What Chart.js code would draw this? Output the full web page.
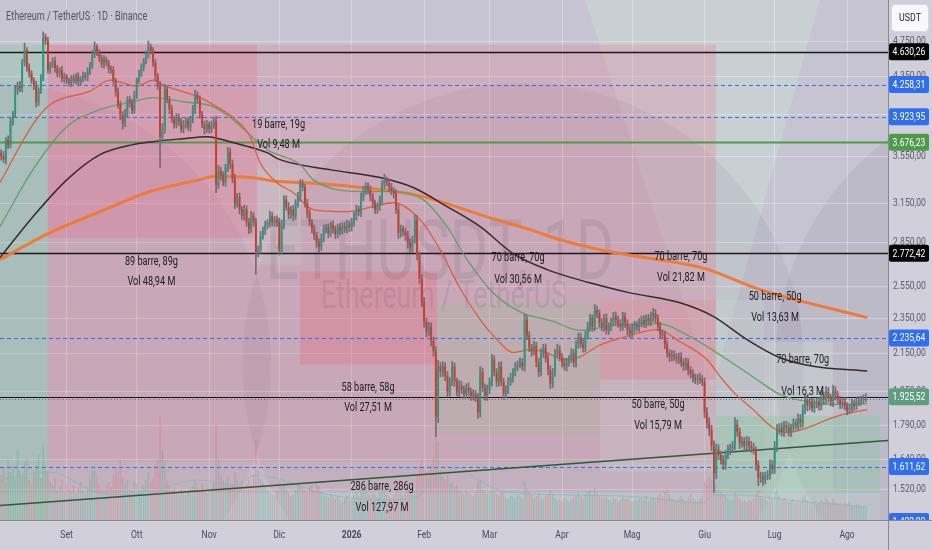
<!DOCTYPE html>
<html><head><meta charset="utf-8">
<script src="https://cdn.jsdelivr.net/npm/chart.js@4.4.1/dist/chart.umd.min.js"></script>
<style>html,body{margin:0;padding:0;background:#d1cfda;}#wrap{width:932px;height:550px;position:relative;}</style>
</head><body><div id="wrap"><canvas id="c"></canvas></div>
<script>
// ---------- DATA ----------
const firstOpen = 3580;
const closes = [
3550,3520,3700,3650,3880,3950,4200,4250,4220,4500,
4650,4450,4380,4300,4250,4070,4200,4330,4810,4760,
4420,4480,4520,4440,4380,4420,4320,4350,4300,4280,
4330,4300,4350,4290,4320,4360,4340,4400,4470,4600,
4690,4620,4560,4480,4540,4500,4430,4420,4300,4180,
4050,3940,3860,3950,4100,4060,3990,4150,4300,4380,
4450,4520,4600,4690,4640,4500,4350,4250,3730,3800,
4210,4100,4000,3900,3850,3920,3880,3800,3850,3880,
3820,3900,4000,4150,4100,3950,3850,3800,3850,3800,
3850,3880,3300,3420,3380,3320,3450,3590,3480,3350,
3150,3200,3100,3050,3100,3000,2950,3050,3000,2780,
2800,2900,2940,2980,3000,3050,3000,3020,3000,2800,
2980,3180,3120,3060,3100,3050,3150,3200,3310,3280,
3150,3070,3000,2950,2900,2850,2820,2880,2950,2960,
2920,2980,2950,2910,2960,2940,2970,2950,2990,2960,
3000,3050,3100,3080,3200,3250,3290,3260,3200,3150,
3100,3120,3180,3300,3340,3320,3280,3250,3230,3100,
2920,2950,2930,2900,2850,2810,2870,3020,2760,2600,
2450,2330,2270,2300,2220,2160,1830,2080,2050,2080,
2030,1950,2000,2080,2000,1950,1980,1960,1940,1970,
1950,1930,1940,1920,1850,2050,1970,1930,1960,2000,
2115,2050,2000,2080,2000,1940,1960,2000,2020,2050,
2080,2090,2100,2080,2340,2250,2180,2160,2190,2100,
2050,2150,2180,2120,2060,1990,2050,2150,2170,2130,
2100,2080,2100,2120,2150,2100,2200,2240,2200,2180,
2250,2300,2350,2300,2400,2380,2320,2300,2350,2280,
2300,2330,2360,2340,2320,2300,2360,2320,2280,2260,
2290,2310,2300,2320,2340,2320,2350,2330,2360,2380,
2350,2300,2260,2250,2200,2150,2130,2140,2130,2120,
2130,2100,2080,2100,2060,2040,2020,2010,2020,2010,
2000,1850,1800,1770,1700,1585,1683,1660,1640,1620,
1660,1680,1690,1700,1793,1760,1710,1720,1700,1720,
1700,1690,1680,1620,1567,1570,1560,1575,1580,1620,
1600,1695,1770,1780,1760,1790,1780,1760,1780,1800,
1790,1820,1800,1863,1911,1880,1900,1870,1890,1900,
1880,1930,1910,1950,1920,1900,1955,1930,1910,1890,
1900,1880,1860,1870,1890,1880,1900,1905,1910,1915,
1925];
// upper / lower wick length, per mille of price
const upWick = [
8,12,6,10,9,7,11,8,10,9, 18,6,9,7,8,10,6,9,12,7, 9,6,8,10,7,6,9,8,5,7, 6,8,7,9,6,8,7,10,8,9,
12,6,8,7,9,6,7,8,9,6, 10,8,9,12,7,8,10,9,7,8, 9,7,8,14,6,8,9,7,10,15, 12,9,8,10,7,9,8,7,10,8,
9,7,10,12,8,9,7,8,10,6, 8,10,12,14,9,10,8,11,9,10, 12,9,10,8,11,9,10,12,8,10, 9,11,8,10,7,12,9,8,10,11,
12,10,9,11,8,10,9,12,10,9, 8,10,9,7,10,8,9,11,10,8, 9,7,10,8,9,11,8,10,9,7, 10,9,11,8,10,12,9,8,10,9,
8,10,9,11,15,8,9,10,8,9, 12,10,8,9,11,10,9,12,10,8, 10,12,9,11,10,9,12,15,10,12, 9,11,10,12,9,10,14,11,9,10,
12,9,10,8,11,14,10,9,12,10, 14,10,9,11,12,9,10,11,12,9, 10,9,12,10,15,11,10,9,12,10, 11,12,9,10,12,11,9,10,14,10,
9,11,10,8,12,10,9,11,10,12, 10,12,11,9,14,10,9,12,10,11, 10,9,11,12,10,9,11,10,9,12, 11,10,9,12,10,11,9,10,12,13,
10,9,12,10,11,9,10,12,11,9, 10,11,9,12,10,9,11,10,9,12, 11,10,12,14,11,12,15,12,10,11, 12,13,10,11,18,12,10,11,9,12,
10,11,12,9,10,12,11,9,10,12, 11,14,13,10,12,11,10,12,9,11, 10,12,11,13,12,10,11,9,12,10, 11,12,10,13,11,9,14,10,11,9,
10,11,9,10,12,9,10,11,9,10,8];
const dnWick = [
10,8,12,9,7,10,8,11,9,10, 8,10,9,7,11,12,8,9,7,10, 8,9,7,10,8,9,7,10,8,9, 10,7,9,8,10,7,8,9,7,8,
9,8,10,7,9,8,10,9,8,11, 10,12,15,9,8,10,9,8,10,7, 8,9,7,10,8,9,12,10,75,12, 10,9,12,8,10,9,11,8,9,10,
8,10,9,11,8,10,9,12,8,10, 9,11,20,10,12,9,10,11,12,10, 14,10,12,9,11,10,12,9,10,55, 12,10,9,11,10,12,9,10,11,14,
12,10,9,11,10,12,9,10,11,9, 10,12,9,11,10,12,14,10,9,11, 12,9,10,11,9,12,10,9,11,10, 9,10,11,9,12,10,9,11,10,12,
11,10,9,12,10,9,11,10,12,10, 14,11,10,12,14,12,10,9,12,13, 12,14,12,10,13,12,50,15,12,11, 12,14,11,10,12,11,13,10,12,11,
10,12,11,10,15,12,10,11,12,10, 11,10,12,11,10,14,11,10,9,11, 10,11,9,10,12,11,10,12,9,11, 12,10,11,9,12,13,10,11,9,10,
11,10,12,9,10,11,12,10,9,11, 10,9,11,12,10,11,9,10,12,10, 11,10,9,12,10,11,9,10,12,10, 9,11,10,12,9,10,11,9,10,12,
11,10,12,9,11,10,12,10,9,11, 12,10,11,9,12,10,11,10,12,9, 10,14,12,15,13,48,14,12,11,13, 12,10,11,12,10,11,13,10,12,11,
12,11,10,14,20,12,15,11,10,12, 11,10,12,11,10,12,11,10,12,9, 10,11,12,10,11,12,10,9,11,10, 11,10,12,9,11,10,12,11,10,12,
11,10,12,9,10,11,9,10,11,9,8];
// volume, in pane units
const volumes = [
45,52,38,60,48,55,42,70,50,44, 58,62,40,36,48,55,66,42,75,50, 47,38,35,42,30,33,40,28,36,31, 29,35,27,33,38,30,26,34,41,50,
55,44,36,32,30,35,38,33,45,52, 48,60,42,35,40,31,29,38,36,30, 33,35,40,48,38,42,55,60,103,70, 58,40,35,30,32,28,26,30,27,25,
28,31,34,40,33,30,35,29,26,30, 32,38,95,60,45,40,38,44,35,36, 48,40,35,38,32,36,40,34,45,80, 50,42,38,33,30,28,26,25,29,40,
32,36,30,27,24,26,30,38,35,31, 30,28,33,35,30,36,34,28,25,24, 22,26,23,21,25,20,18,22,24,19, 21,25,28,24,30,28,33,26,24,27,
25,23,28,32,30,26,24,22,25,30, 36,28,25,30,33,28,35,30,45,55, 60,52,48,50,55,62,89,78,50,44, 40,45,36,38,33,35,30,28,26,30,
27,25,24,28,38,40,30,27,26,29, 33,30,26,24,28,27,22,21,24,23, 22,25,24,21,38,32,28,25,22,24, 26,22,21,24,26,30,25,22,20,21,
19,22,20,18,21,23,25,28,24,22, 26,28,30,25,32,27,24,22,21,23, 20,19,22,21,18,20,23,21,22,19, 18,20,19,21,22,20,24,19,21,23,
22,25,27,24,28,30,26,22,21,20, 22,24,21,19,23,26,22,20,19,21, 24,38,35,42,40,47,36,30,28,26, 25,22,20,21,28,24,22,19,20,18,
20,19,22,26,30,24,22,20,19,23, 21,28,30,24,20,22,19,18,20,21, 17,19,18,23,25,20,18,17,19,16, 17,20,18,22,19,17,21,18,16,17,
15,17,16,18,15,14,16,15,13,14,12];

// moving averages: [bar index, price]
const ma200 = [[-0.5,2728],[20.9,2922],[42.3,3082],[63.7,3244],[85.1,3344],[90.7,3370],[106.5,3361],[119.3,3327],[127.9,3319],[140.7,3302],[162.1,3260],[180.5,3202],[205,3059],[226.3,2944],[239.2,2870],[256.3,2798],[267.9,2762],[300.4,2670],[324.8,2528],[370.6,2354]];
const ma100 = [[-0.5,2742],[13.6,3043],[28.2,3344],[42.3,3563],[56.4,3655],[65,3683],[77.8,3711],[88.1,3730],[99.2,3674],[113.8,3581],[119.3,3518],[140.7,3430],[162.1,3361],[176.3,3277],[190.8,3122],[205,2967],[219.1,2770],[233.6,2660],[256.3,2554],[269.1,2507],[290.5,2445],[304.7,2362],[319.2,2226],[333.3,2126],[347.5,2080],[370.6,2055]];
const ma50 = [[-0.5,2967],[13.6,3430],[28.2,3827],[42.3,3995],[56.4,4076],[65,4119],[77.8,4076],[90.7,4026],[99.2,3895],[113.8,3609],[127.9,3474],[133.5,3344],[154.9,3244],[167.7,3244],[180.5,3178],[190.8,2967],[199.4,2728],[210.5,2508],[222.1,2389],[236.2,2331],[247.7,2279],[261.9,2307],[280.7,2319],[294.8,2243],[308.9,2131],[323.5,2010],[333.3,1936],[347.5,1897],[359,1888],[370.6,1892]];
const ma20 = [[-0.5,3318],[13.6,3848],[20.9,4046],[38,4187],[46.6,4307],[58.1,4242],[65,4307],[69.3,4253],[79.5,4170],[85.1,4119],[90.7,4047],[99.2,3915],[106.5,3733],[110.8,3491],[118,3318],[124.9,3236],[133.5,3098],[148,3082],[159.1,3121],[167.7,3153],[179.3,3020],[187.8,2798],[196.4,2535],[205,2342],[212.2,2226],[219.1,2154],[226.3,2170],[233.6,2154],[240.5,2115],[247.7,2131],[256.3,2196],[269.1,2250],[280.7,2283],[290.5,2214],[302.1,2115],[307.7,2026],[313.2,1950],[321.8,1863],[330.3,1779],[336.3,1757],[344.9,1779],[354.7,1821],[362,1845],[370.6,1863]];
const volMA = [[-0.5,40],[20.9,48],[42.3,27],[63.7,25],[71,33],[85.1,40],[99.2,35],[109.5,45],[120.6,40],[135.2,28],[149.3,22],[163.4,20],[178,23],[184.8,40],[196.4,52],[201.9,43],[216.5,28],[244.7,25],[273.4,23],[300.4,17],[304.7,25],[316.2,25],[330.3,22],[344.9,18],[366.3,14],[370.6,13]];
const trendLine = [[-0.5,1460],[379.5,1722]];

// axes
const monthTicks = [28,58,89,119,150,181,209,240,270,301,331,362];
const monthLabels = ['Set','Ott','Nov','Dic','2026','Feb','Mar','Apr','Mag','Giu','Lug','Ago'];
const priceTicks = [4750,4350,3950,3550,3150,2850,2550,2350,2150,1950,1790,1640,1520];

// horizontal levels
const levels = [4630.26,4258.31,3923.95,3676.23,2772.42,2235.64,1925.52,1611.62];
const levelKinds = ['black','blue','blue','green','black','blue','price','blue'];
const bottomTag = 1402;

// drawn zones: [from bar, to bar, low price, high price]
const zones = [
[-0.5,20,1407,4713],[20,305.9,1632,4713],[20,305.9,1508,1632],[20,109.5,2885,4713],
[109.5,128.3,2694,3447],[127.9,186.5,2089,2646],[186.5,256.3,1748,2445],[256.3,326.5,1591,2464],
[256.3,305.9,2010,2464],[326.5,356,1508,2215],[305.9,376.1,1508,1834],[-0.5,376.1,1407,1508]];
const zoneFills = ['rgba(110,200,150,0.25)','rgba(230,110,140,0.25)','rgba(230,110,140,0.13)','rgba(235,90,120,0.2)',
'rgba(190,205,200,0.3)','rgba(235,90,110,0.25)','rgba(165,190,160,0.3)','rgba(200,225,210,0.22)',
'rgba(235,90,120,0.22)','rgba(215,235,225,0.25)','rgba(120,200,150,0.3)','rgba(190,220,210,0.22)'];

// range measurement labels
const rangeText1 = ['89 barre, 89g','19 barre, 19g','58 barre, 58g','70 barre, 70g','70 barre, 70g','50 barre, 50g','50 barre, 50g','70 barre, 70g','286 barre, 286g'];
const rangeText2 = ['Vol 48,94 M','Vol 9,48 M','Vol 27,51 M','Vol 30,56 M','Vol 21,82 M','Vol 13,63 M','Vol 15,79 M','Vol 16,3 M','Vol 127,97 M'];
const rangeX = [64.3,118.7,157,221.2,290.9,331.2,281.1,343,163];
const rangeY1 = [2714,3846,1970,2742,2749,2483,1887,2115,1531];
const rangeY2 = [2580,3655,1873,2593,2606,2354,1789,1949,1452];

// ---------- BUILD ----------
const opens = closes.map((c,i)=> i===0 ? firstOpen : closes[i-1]);
const highs = closes.map((c,i)=> Math.max(c,opens[i])*(1+upWick[i]/1000));
const lows = closes.map((c,i)=> Math.min(c,opens[i])*(1-dnWick[i]/1000));
const isUp = closes.map((c,i)=> c>=opens[i]);
const bodyData = closes.map((c,i)=>({x:i,y:[opens[i],c]}));
const wickData = closes.map((c,i)=>({x:i,y:[lows[i],highs[i]]}));
const volData = volumes.map((v,i)=>({x:i,y:v}));
const pts = a => a.map(p=>({x:p[0],y:p[1]}));

function fmt(v){const s=v.toFixed(2).split('.');return s[0].replace(/\B(?=(\d{3})+(?!\d))/g,'.')+','+s[1];}
function txt(ctx,s,x,y,size,color,align,sx,weight){
  ctx.save();ctx.translate(x,y);ctx.scale(sx,1);
  ctx.font=(weight||'normal')+' '+size+'px Roboto, "Liberation Sans", sans-serif';
  ctx.fillStyle=color;ctx.textAlign=align;ctx.textBaseline='middle';
  ctx.fillText(s,0,0);ctx.restore();
}
function rrect(ctx,x,y,w,h,r){ctx.beginPath();ctx.moveTo(x+r,y);ctx.arcTo(x+w,y,x+w,y+h,r);ctx.arcTo(x+w,y+h,x,y+h,r);ctx.arcTo(x,y+h,x,y,r);ctx.arcTo(x,y,x+w,y,r);ctx.closePath();}

const levelLine = {black:['#1d191b',1.6,[]],blue:['#2f6ef0',1,[4,3]],green:['#4f9a4a',2,[]],price:['#15141a',1.2,[]]};
const levelBox = {black:'#050505',blue:'#2f6ef0',green:'#4f9a4a',price:'#5e9e7e'};

const deco = {
  id:'deco',
  beforeDraw(chart){
    const {ctx,chartArea:a,width,height}=chart;
    ctx.save();
    ctx.fillStyle='#d1cfda';ctx.fillRect(0,0,width,height);
    ctx.beginPath();ctx.rect(a.left,a.top,a.right-a.left,a.bottom-a.top);ctx.clip();
    ctx.fillStyle='#c6c4d0';ctx.fillRect(a.left,a.top,a.right-a.left,a.bottom-a.top);
    const W=a.right-a.left,H=a.bottom-a.top;
    ctx.fillStyle='rgba(205,232,222,0.35)';
    ctx.beginPath();ctx.moveTo(a.left+W*0.659,a.top);ctx.lineTo(a.left+W*0.923,a.top);ctx.lineTo(a.left+W*0.802,a.top+H*0.75);ctx.closePath();ctx.fill();
    ctx.fillStyle='rgba(70,60,80,0.07)';
    for(const cx of [-0.011,0.589,1.189]){ctx.beginPath();ctx.arc(a.left+W*cx,a.top+H*0.7,H*0.54,0,Math.PI*2);ctx.fill();}
    ctx.restore();
  },
  beforeDatasetsDraw(chart){
    const {ctx,chartArea:a,scales:{x,y}}=chart;
    ctx.save();ctx.beginPath();ctx.rect(a.left,a.top,a.right-a.left,a.bottom-a.top);ctx.clip();
    zones.forEach((z,k)=>{
      const x0=x.getPixelForValue(z[0]),x1=x.getPixelForValue(z[1]);
      const y0=y.getPixelForValue(z[3]),y1=y.getPixelForValue(z[2]);
      ctx.fillStyle=zoneFills[k];ctx.fillRect(x0,y0,x1-x0,y1-y0);
    });
    const cx=(a.left+a.right)/2;
    txt(ctx,'ETHUSDT, 1D',cx-4,y.getPixelForValue(2740),84,'rgba(60,45,70,0.10)','center',0.7);
    txt(ctx,'Ethereum / TetherUS',cx,y.getPixelForValue(2470),38,'rgba(60,45,70,0.10)','center',0.7);
    levels.forEach((v,k)=>{
      const st=levelLine[levelKinds[k]];const py=Math.round(y.getPixelForValue(v))+0.5;
      ctx.strokeStyle=st[0];ctx.lineWidth=st[1];ctx.setLineDash(st[2]);
      ctx.beginPath();ctx.moveTo(a.left,py);ctx.lineTo(a.right,py);ctx.stroke();
    });
    const lp=Math.round(y.getPixelForValue(closes[closes.length-1]))+2.5;
    ctx.strokeStyle='rgba(90,90,100,0.8)';ctx.lineWidth=1;ctx.setLineDash([1,2]);
    ctx.beginPath();ctx.moveTo(a.left,lp);ctx.lineTo(a.right,lp);ctx.stroke();
    ctx.restore();
  },
  afterDatasetsDraw(chart){
    const {ctx,chartArea:a,scales:{x,y}}=chart;
    ctx.save();ctx.beginPath();ctx.rect(a.left,a.top,a.right-a.left,a.bottom-a.top);ctx.clip();
    rangeText1.forEach((t,k)=>{
      const px=x.getPixelForValue(rangeX[k]);
      txt(ctx,t,px,y.getPixelForValue(rangeY1[k]),12.5,'#1c1b22','center',0.73);
      txt(ctx,rangeText2[k],px,y.getPixelForValue(rangeY2[k]),12.5,'#1c1b22','center',0.73);
    });
    ctx.restore();
  },
  afterDraw(chart){
    const {ctx,chartArea:a,scales:{x,y},width,height}=chart;
    ctx.save();
    ctx.strokeStyle='#8a8894';ctx.lineWidth=1;ctx.setLineDash([]);
    ctx.beginPath();ctx.moveTo(a.right+0.5,0);ctx.lineTo(a.right+0.5,height);ctx.stroke();
    ctx.beginPath();ctx.moveTo(0,a.bottom+0.5);ctx.lineTo(width,a.bottom+0.5);ctx.stroke();
    priceTicks.forEach(v=>{txt(ctx,fmt(v),a.right+5,y.getPixelForValue(v),11,'#5e5d6a','left',0.78);});
    monthTicks.forEach((v,k)=>{txt(ctx,monthLabels[k],x.getPixelForValue(v),a.bottom+15,11,'#4a4956','center',0.78,monthLabels[k]==='2026'?'bold':'normal');});
    ctx.save();ctx.beginPath();ctx.rect(a.right+1,0,width-a.right,a.bottom);ctx.clip();
    const tag=(v,col)=>{const py=y.getPixelForValue(v);ctx.fillStyle=col;rrect(ctx,a.right+1,py-8.5,40,17,2);ctx.fill();txt(ctx,fmt(v),a.right+21,py+0.5,11,'#ffffff','center',0.78);};
    levels.forEach((v,k)=>tag(v,levelBox[levelKinds[k]]));
    tag(bottomTag,'#2f6ef0');
    ctx.restore();
    ctx.fillStyle='#f8f8fa';ctx.strokeStyle='#d9d8df';rrect(ctx,a.right+3.5,4.5,37,27,4);ctx.fill();ctx.stroke();
    txt(ctx,'USDT',a.right+22,18,11,'#26252c','center',0.8);
    txt(ctx,'Ethereum / TetherUS · 1D · Binance',6,17,13,'#55545f','left',0.7);
    ctx.restore();
  }
};

Chart.defaults.font.family='Roboto, "Liberation Sans", sans-serif';
new Chart(document.getElementById('c'),{
  type:'bar',
  data:{datasets:[
    {type:'bar',label:'body',data:bodyData,yAxisID:'y',order:1,grouped:false,barPercentage:0.8,categoryPercentage:1,
     backgroundColor:isUp.map(u=>u?'#2a9a7e':'#cf3b2b'),borderWidth:0},
    {type:'bar',label:'wick',data:wickData,yAxisID:'y',order:2,grouped:false,barThickness:1,backgroundColor:'#716c76'},
    {type:'line',label:'ma20',data:pts(ma20),yAxisID:'y',order:3,borderColor:'#d9603f',borderWidth:1.3,pointRadius:0,cubicInterpolationMode:'monotone'},
    {type:'line',label:'ma50',data:pts(ma50),yAxisID:'y',order:3,borderColor:'#62a064',borderWidth:1.3,pointRadius:0,cubicInterpolationMode:'monotone'},
    {type:'line',label:'ma100',data:pts(ma100),yAxisID:'y',order:3,borderColor:'#352a2e',borderWidth:1.5,pointRadius:0,cubicInterpolationMode:'monotone'},
    {type:'line',label:'ma200',data:pts(ma200),yAxisID:'y',order:3,borderColor:'#f07b38',borderWidth:3,pointRadius:0,cubicInterpolationMode:'monotone'},
    {type:'line',label:'trend',data:pts(trendLine),yAxisID:'y',order:3,borderColor:'#2f5a36',borderWidth:1.6,pointRadius:0},
    {type:'line',label:'volma',data:pts(volMA),yAxisID:'yv',order:8,borderColor:'rgba(110,190,185,0.6)',borderWidth:1,pointRadius:0,cubicInterpolationMode:'monotone'},
    {type:'bar',label:'vol',data:volData,yAxisID:'yv',order:9,grouped:false,barPercentage:0.6,categoryPercentage:1,
     backgroundColor:isUp.map(u=>u?'rgba(60,170,130,0.28)':'rgba(225,90,100,0.28)')}
  ]},
  options:{
    responsive:true,maintainAspectRatio:false,animation:false,
    layout:{padding:0},
    plugins:{legend:{display:false},tooltip:{enabled:false},title:{display:false}},
    scales:{
      x:{type:'linear',min:-0.5,max:379.5,offset:false,bounds:'data',
         afterBuildTicks:s=>{s.ticks=monthTicks.map(v=>({value:v}));},
         ticks:{display:false,autoSkip:false},
         grid:{color:'rgba(255,255,255,0.32)',lineWidth:1,drawTicks:false,offset:false},
         border:{display:false},
         afterFit:s=>{s.height=30;}},
      y:{type:'logarithmic',position:'right',min:1407,max:5280,bounds:'data',
         afterBuildTicks:s=>{s.ticks=priceTicks.map(v=>({value:v}));},
         ticks:{display:false,autoSkip:false},
         grid:{color:'rgba(255,255,255,0.32)',lineWidth:1,drawTicks:false},
         border:{display:false},
         afterFit:s=>{s.width=44;}},
      yv:{type:'linear',min:0,max:520,display:false}
    }
  },
  plugins:[deco]
});
</script></body></html>
